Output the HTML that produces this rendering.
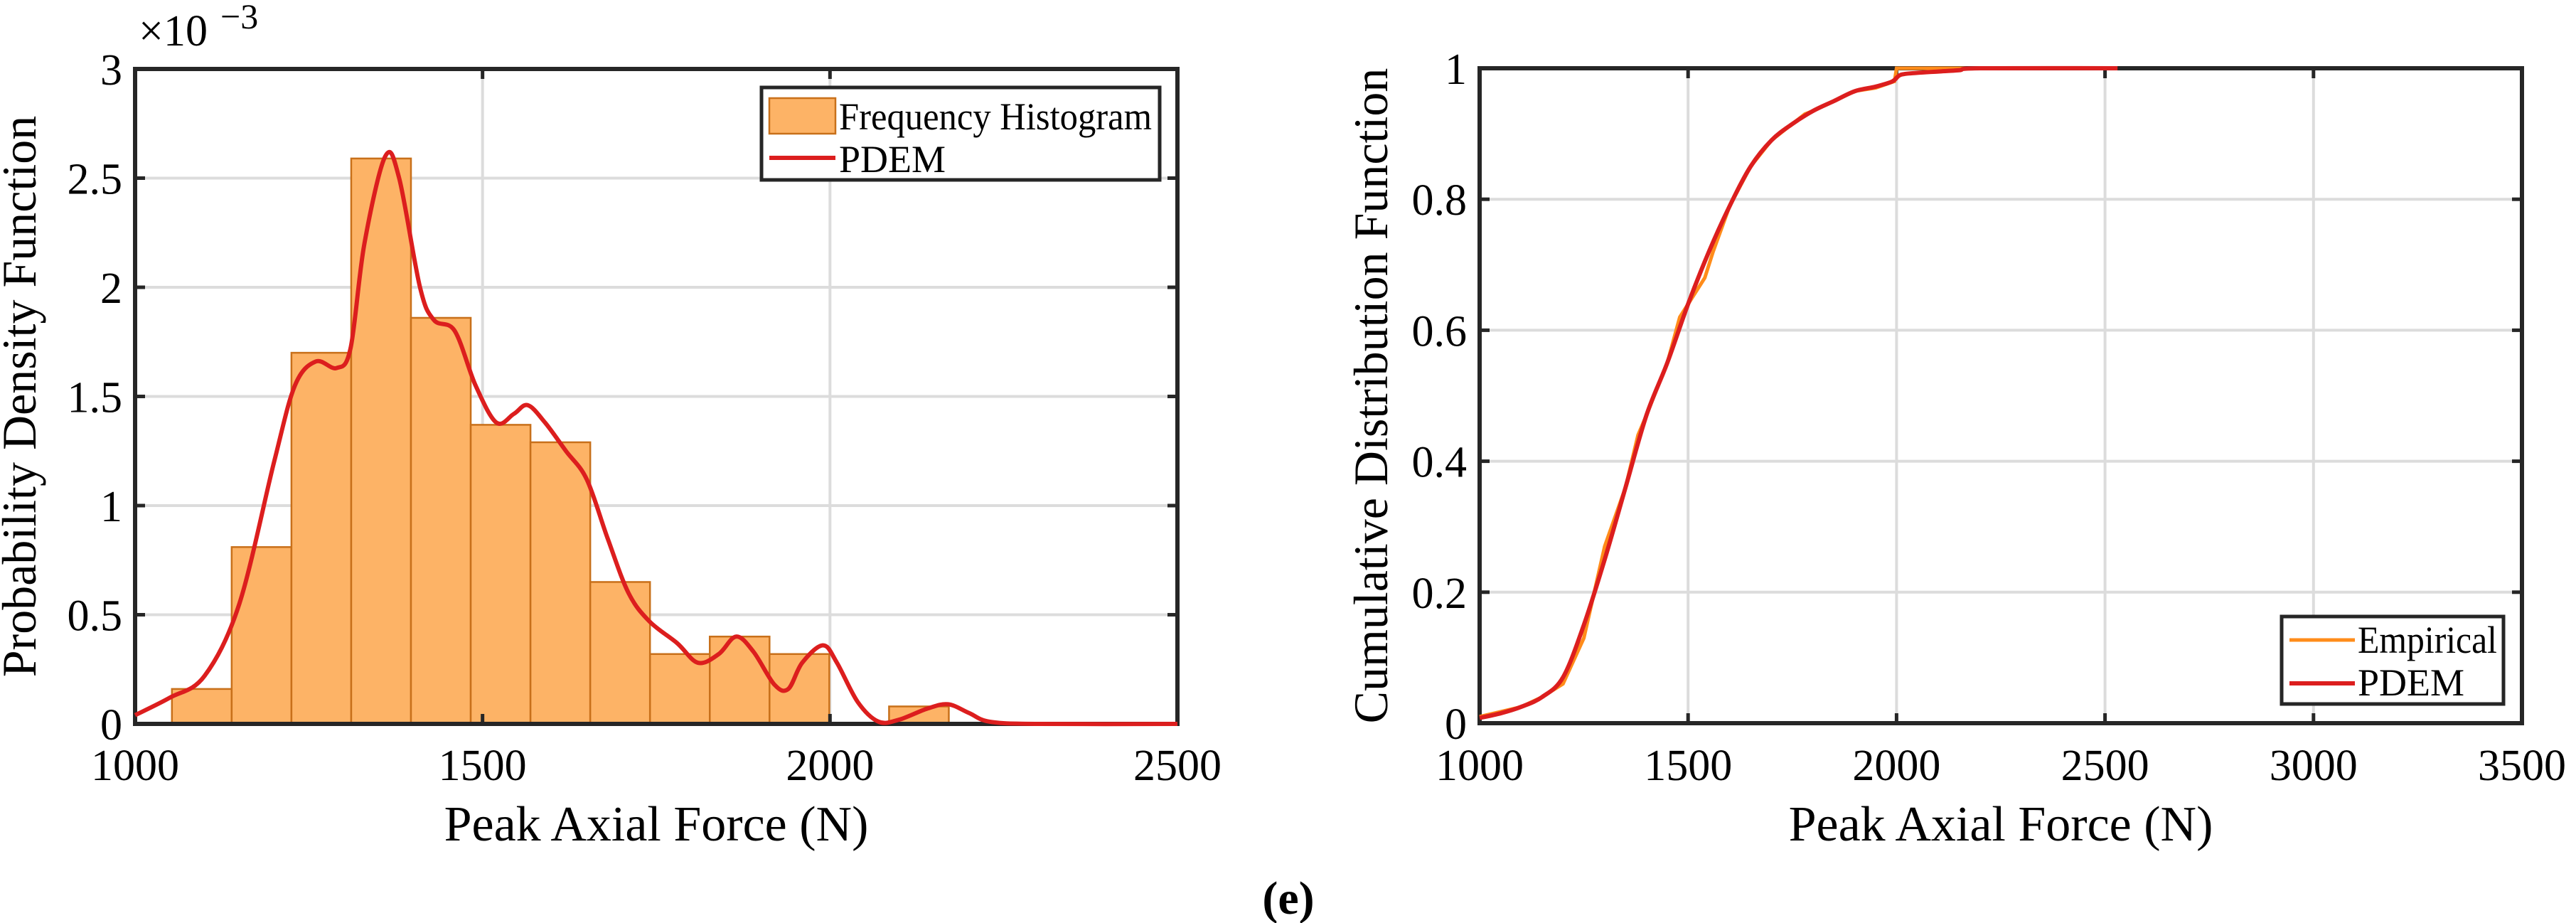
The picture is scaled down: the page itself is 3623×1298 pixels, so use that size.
<!DOCTYPE html>
<html><head><meta charset="utf-8"><style>
html,body{margin:0;padding:0;background:#fff;}
svg{display:block;font-family:"Liberation Serif",serif;}
</style></head><body>
<svg id="fig" width="3623" height="1298" viewBox="0 0 3623 1298">
<g id="left"></g>
<g id="right"></g>
<text x="1812" y="1285" text-anchor="middle" font-size="66" font-weight="bold">(e)</text>
</svg>
<script>
// ---- PDF chart data ----
const binEdgeStart = 1053;
const binWidth = 86;
const histHeights = [0.16,0.81,1.70,2.59,1.86,1.37,1.29,0.65,0.32,0.40,0.32,0,0.08];
const pdemX = [1000,1050,1100,1150,1200,1230,1260,1290,1310,1330,1360,1380,1410,1430,1460,1490,1520,1545,1565,1590,1620,1650,1680,1710,1740,1780,1810,1840,1865,1890,1920,1940,1960,1990,2010,2040,2070,2100,2140,2170,2200,2230,2300,2500];
const pdemY = [0.04,0.12,0.22,0.55,1.2,1.55,1.66,1.63,1.72,2.2,2.6,2.5,2.0,1.85,1.8,1.55,1.38,1.42,1.46,1.38,1.25,1.12,0.85,0.6,0.47,0.37,0.28,0.32,0.4,0.33,0.18,0.16,0.28,0.36,0.28,0.1,0.01,0.02,0.07,0.09,0.05,0.01,0,0];
const pdfXTicks = [1000,1500,2000,2500];
const pdfYTicks = [0,0.5,1,1.5,2,2.5,3];
const pdfYTickLabels = ["0","0.5","1","1.5","2","2.5","3"];
// ---- CDF chart data ----
const cdfX = [1000,1050,1100,1150,1200,1250,1300,1350,1400,1450,1500,1550,1600,1650,1700,1750,1800,1850,1900,1950,1990,2010,2050,2100,2150,2200,2530];
const cdfY = [0.008,0.015,0.025,0.04,0.07,0.15,0.25,0.36,0.47,0.55,0.64,0.72,0.79,0.85,0.89,0.915,0.935,0.95,0.965,0.972,0.98,0.99,0.993,0.995,0.997,1,1];
const empX = [1000,1100,1150,1200,1250,1300,1350,1380,1400,1450,1480,1500,1540,1560,1600,1650,1700,1750,1780,1800,1850,1900,1950,1995,2000,2100,2180];
const empY = [0.01,0.025,0.04,0.06,0.13,0.27,0.36,0.44,0.47,0.55,0.62,0.64,0.68,0.72,0.79,0.85,0.89,0.915,0.93,0.935,0.95,0.965,0.97,0.98,1,1,1];
const cdfXTicks = [1000,1500,2000,2500,3000,3500];
const cdfYTicks = [0,0.2,0.4,0.6,0.8,1];
const cdfYTickLabels = ["0","0.2","0.4","0.6","0.8","1"];

const NS="http://www.w3.org/2000/svg";
function mk(parent,tag,attrs,text){const e=document.createElementNS(NS,tag);for(const k in attrs)e.setAttribute(k,attrs[k]);if(text!==undefined)e.textContent=text;parent.appendChild(e);return e;}

function axes(g,L,R,T,B,xmin,xmax,ymin,ymax,xt,yt,ytl,ylabel){
  const sx=v=>L+(v-xmin)/(xmax-xmin)*(R-L);
  const sy=v=>B-(v-ymin)/(ymax-ymin)*(B-T);
  xt.forEach(v=>{
    const l=mk(g,'line',{x1:sx(v),x2:sx(v),y1:T,y2:B,stroke:'#dcdcdc','stroke-width':4});
    
    
    const t=mk(g,'text',{x:sx(v),y:1097,'text-anchor':'middle','font-size':62},String(v));
    
    
  });
  yt.forEach((v,i)=>{
    const l=mk(g,'line',{x1:L,x2:R,y1:sy(v),y2:sy(v),stroke:'#dcdcdc','stroke-width':4});
    
    
    const t=mk(g,'text',{x:L-18,y:sy(v)+22,'text-anchor':'end','font-size':62},ytl[i]);
    
    
  });
  const xl=mk(g,'text',{x:(L+R)/2,y:1182,'text-anchor':'middle','font-size':70},'Peak Axial Force (N)');
  
  
  const yx=L-(ylabel.length>29?130:140);
  const yl=mk(g,'text',{x:yx,y:(T+B)/2,'text-anchor':'middle','font-size':68,transform:`rotate(-90 ${yx} ${(T+B)/2})`},ylabel);
  
  
  return {sx,sy};
}
function frame(g,L,R,T,B,xt,yt,sx,sy){
  xt.forEach(v=>{mk(g,'line',{x1:sx(v),x2:sx(v),y1:B,y2:B-14,stroke:'#262626','stroke-width':5});mk(g,'line',{x1:sx(v),x2:sx(v),y1:T,y2:T+14,stroke:'#262626','stroke-width':5});});
  yt.forEach(v=>{mk(g,'line',{x1:L,x2:L+14,y1:sy(v),y2:sy(v),stroke:'#262626','stroke-width':5});mk(g,'line',{x1:R,x2:R-14,y1:sy(v),y2:sy(v),stroke:'#262626','stroke-width':5});});
  const f=mk(g,'rect',{x:L,y:T,width:R-L,height:B-T,fill:'none',stroke:'#262626','stroke-width':6});
  
  
}
function pathD(xs,ys,sx,sy){return xs.map((x,i)=>(i?'L':'M')+sx(x).toFixed(1)+','+sy(ys[i]).toFixed(1)).join(' ');}
function smoothD(xs,ys,sx,sy){
  const p=xs.map((x,i)=>[sx(x),sy(ys[i])]);let d='M'+p[0][0]+','+p[0][1];
  for(let i=0;i<p.length-1;i++){const p0=p[i-1]||p[i],p1=p[i],p2=p[i+1],p3=p[i+2]||p2;
    d+=` C${p1[0]+(p2[0]-p0[0])/6},${p1[1]+(p2[1]-p0[1])/6} ${p2[0]-(p3[0]-p1[0])/6},${p2[1]-(p3[1]-p1[1])/6} ${p2[0]},${p2[1]}`;}
  return d;}

// Left chart
(function(){
  const g=document.getElementById('left');
  const L=190,R=1656,T=97,B=1018;
  const {sx,sy}=axes(g,L,R,T,B,1000,2500,0,3,pdfXTicks,pdfYTicks,pdfYTickLabels,'Probability Density Function');
  histHeights.forEach((h,i)=>{
    if(h<=0)return;
    const x0=binEdgeStart+i*binWidth,x1=x0+binWidth;
    const r=mk(g,'rect',{x:sx(x0),y:sy(h),width:sx(x1)-sx(x0),height:B-sy(h),fill:'#fdb366',stroke:'#c8701a','stroke-width':2.5});
    
    
  });
  frame(g,L,R,T,B,pdfXTicks,pdfYTicks,sx,sy);
  const c=mk(g,'path',{d:smoothD(pdemX,pdemY,sx,sy),fill:'none',stroke:'#dc1e1e','stroke-width':6});
  
  
  const ex=mk(g,'text',{x:195,y:64,'font-size':62},'×10');
  
  
  mk(g,'text',{x:310,y:40,'font-size':50},'−3');
  const lg=mk(g,'g',{});
  
  
  mk(lg,'rect',{x:1071,y:123,width:560,height:130,fill:'#fff',stroke:'#262626','stroke-width':5});
  mk(lg,'rect',{x:1082,y:138,width:93,height:50,fill:'#fdb366',stroke:'#c8701a','stroke-width':2.5});
  mk(lg,'text',{x:1180,y:182,'font-size':54,textLength:440,lengthAdjust:'spacingAndGlyphs'},'Frequency Histogram');
  mk(lg,'line',{x1:1082,x2:1175,y1:222,y2:222,stroke:'#dc1e1e','stroke-width':6});
  mk(lg,'text',{x:1180,y:242,'font-size':54},'PDEM');
})();

// Right chart
(function(){
  const g=document.getElementById('right');
  const L=2081,R=3547,T=96,B=1017;
  const {sx,sy}=axes(g,L,R,T,B,1000,3500,0,1,cdfXTicks,cdfYTicks,cdfYTickLabels,'Cumulative Distribution Function');
  frame(g,L,R,T,B,cdfXTicks,cdfYTicks,sx,sy);
  const e=mk(g,'path',{d:pathD(empX,empY,sx,sy),fill:'none',stroke:'#ff8c1a','stroke-width':5});
  
  
  const c=mk(g,'path',{d:smoothD(cdfX,cdfY,sx,sy),fill:'none',stroke:'#dc1e1e','stroke-width':6});
  
  
  const lg=mk(g,'g',{});
  
  
  mk(lg,'rect',{x:3209,y:867,width:312,height:123,fill:'#fff',stroke:'#262626','stroke-width':5});
  mk(lg,'line',{x1:3220,x2:3312,y1:900,y2:900,stroke:'#ff8c1a','stroke-width':5});
  mk(lg,'text',{x:3316,y:918,'font-size':54,textLength:196,lengthAdjust:'spacingAndGlyphs'},'Empirical');
  mk(lg,'line',{x1:3220,x2:3312,y1:961,y2:961,stroke:'#dc1e1e','stroke-width':6});
  mk(lg,'text',{x:3316,y:978,'font-size':54},'PDEM');
})();
</script>
</body></html>
